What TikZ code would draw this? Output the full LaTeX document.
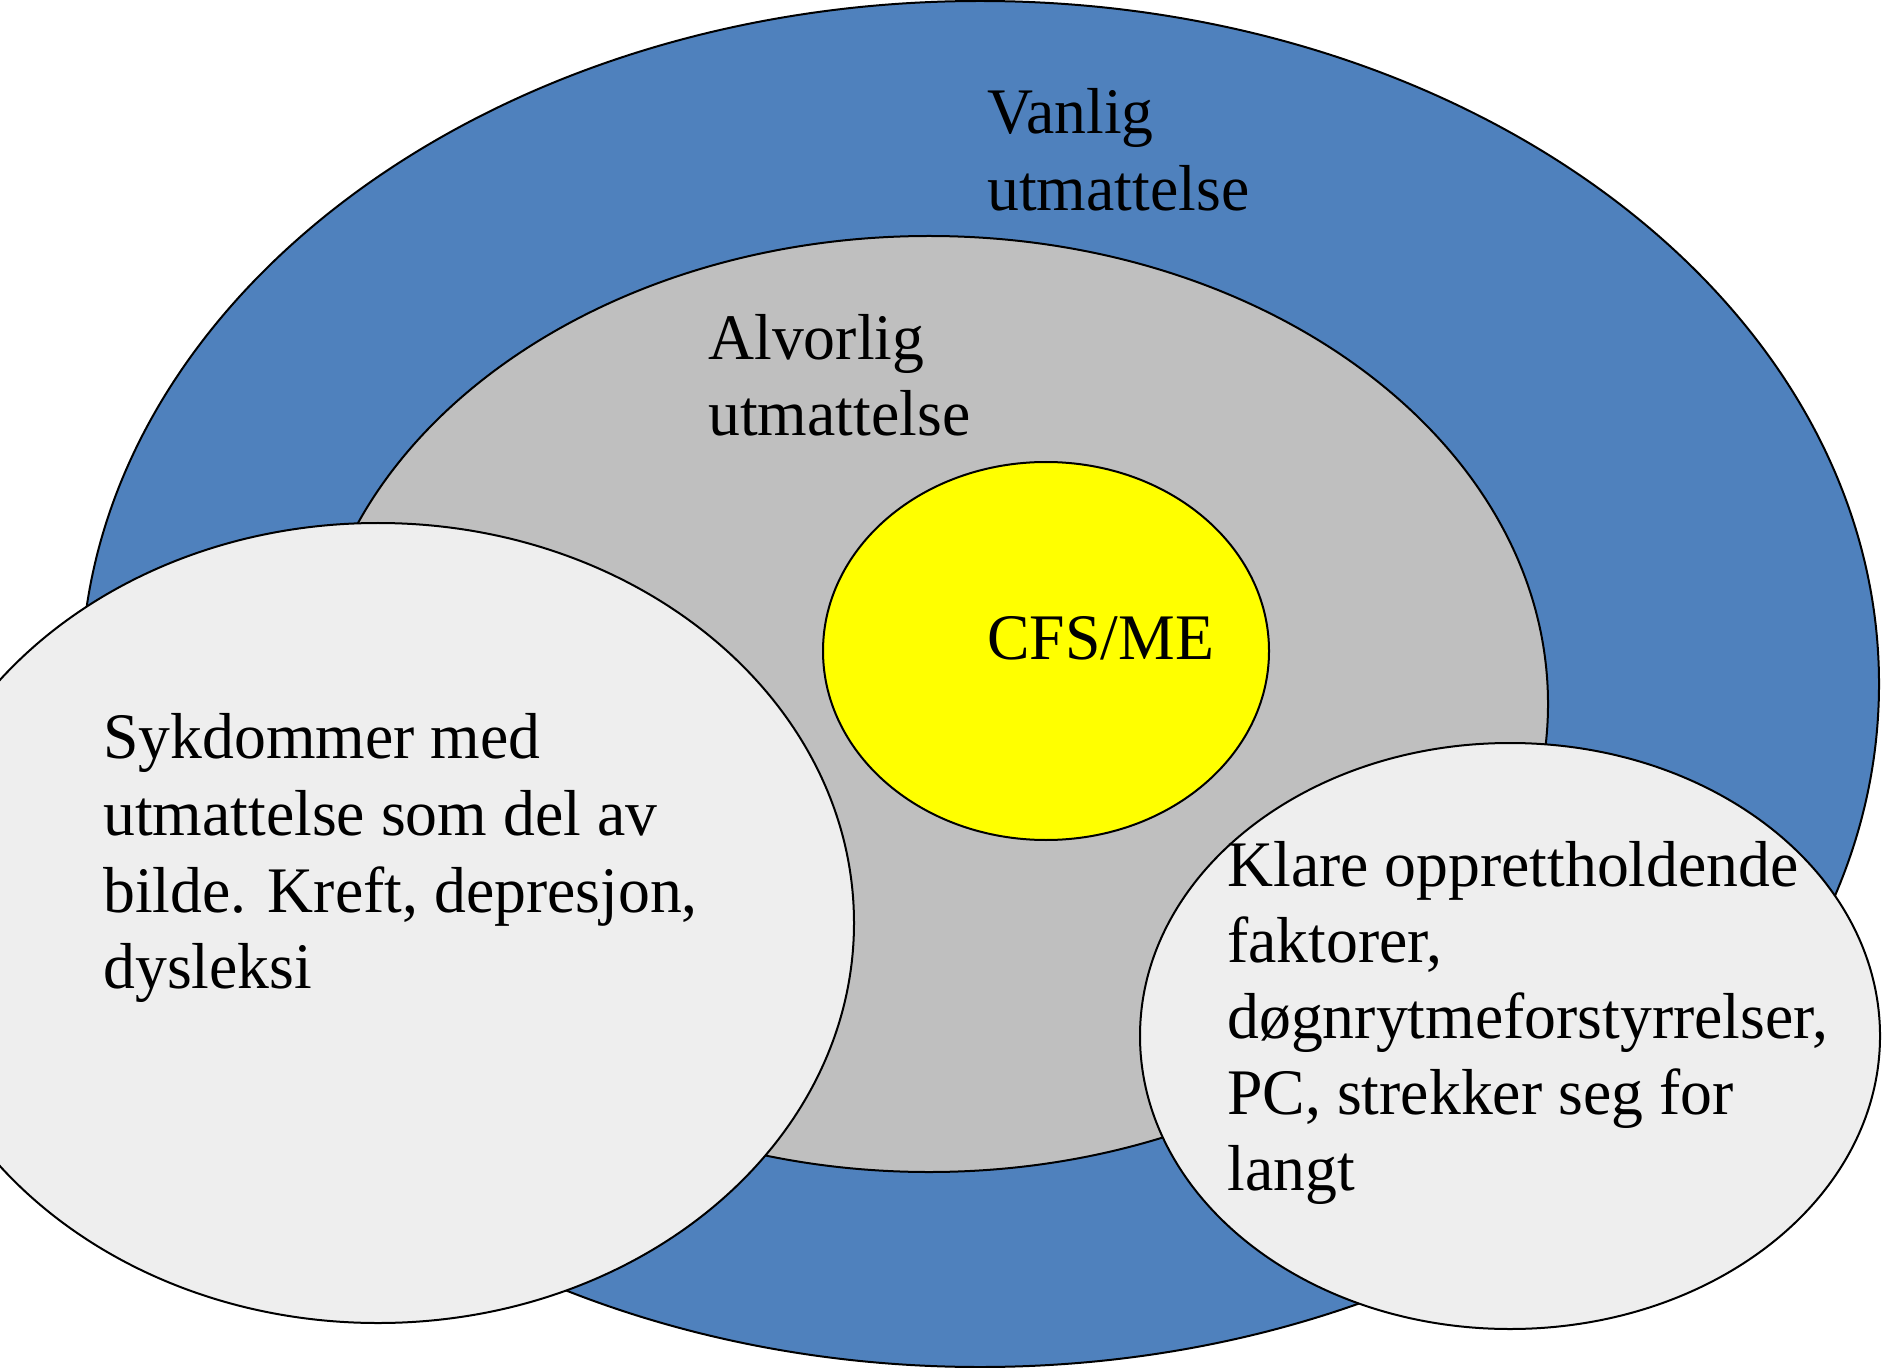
\documentclass[tikz,border=0pt]{standalone}
\usepackage{fontspec}
\setmainfont[FakeStretch=0.98]{Liberation Serif}
\usetikzlibrary{shapes.geometric}
\definecolor{outerblue}{HTML}{4F81BD}
\definecolor{midgray}{HTML}{BFBFBF}
\definecolor{lightgray}{HTML}{EEEEEE}
\definecolor{cfsyellow}{HTML}{FFFF00}
\tikzset{
  ring/.style={ellipse, draw=black, line width=1pt, inner sep=0pt},
  lbl/.style={anchor=base west, inner sep=0pt, font=\fontsize{32.5}{38.3}\selectfont},
}
\begin{document}
\begin{tikzpicture}[x=0.5pt,y=-0.5pt]
\useasboundingbox (0,0) rectangle (1882,1368);
\clip (0,0) rectangle (1882,1368);
\node[ring, fill=outerblue, minimum width=899pt, minimum height=683pt] (vanlig) at (980,684) {};
\node[ring, fill=midgray, minimum width=619pt, minimum height=468pt] (alvorlig) at (929,704) {};
\node[ring, fill=cfsyellow, minimum width=223pt, minimum height=189pt] (cfs) at (1046,651) {};
\node[ring, fill=lightgray, minimum width=476pt, minimum height=400pt] (sykdom) at (378,923) {};
\node[ring, fill=lightgray, minimum width=370pt, minimum height=293pt] (klare) at (1510,1036) {};
% texts
\node[lbl] (v1) at (987,134) {Vanlig};
\node[lbl] (v2) at (987,211) {utmattelse};
\node[lbl] (a1) at (708,360) {Alvorlig};
\node[lbl] (a2) at (708,436) {utmattelse};
\node[lbl] (c1) at (987,659) {CFS/ME};
\node[lbl] (s1) at (103,758) {Sykdommer med};
\node[lbl] (s2) at (103,835) {utmattelse som del av};
\node[lbl] (s3) at (103,912) {bilde. Kreft, depresjon,};
\node[lbl] (s4) at (103,988) {dysleksi};
\node[lbl] (k1) at (1227,886) {Klare opprettholdende};
\node[lbl] (k2) at (1227,962) {faktorer,};
\node[lbl] (k3) at (1227,1038) {døgnrytmeforstyrrelser,};
\node[lbl] (k4) at (1227,1114) {PC, strekker seg for};
\node[lbl] (k5) at (1227,1190) {langt};
\end{tikzpicture}
\end{document}
